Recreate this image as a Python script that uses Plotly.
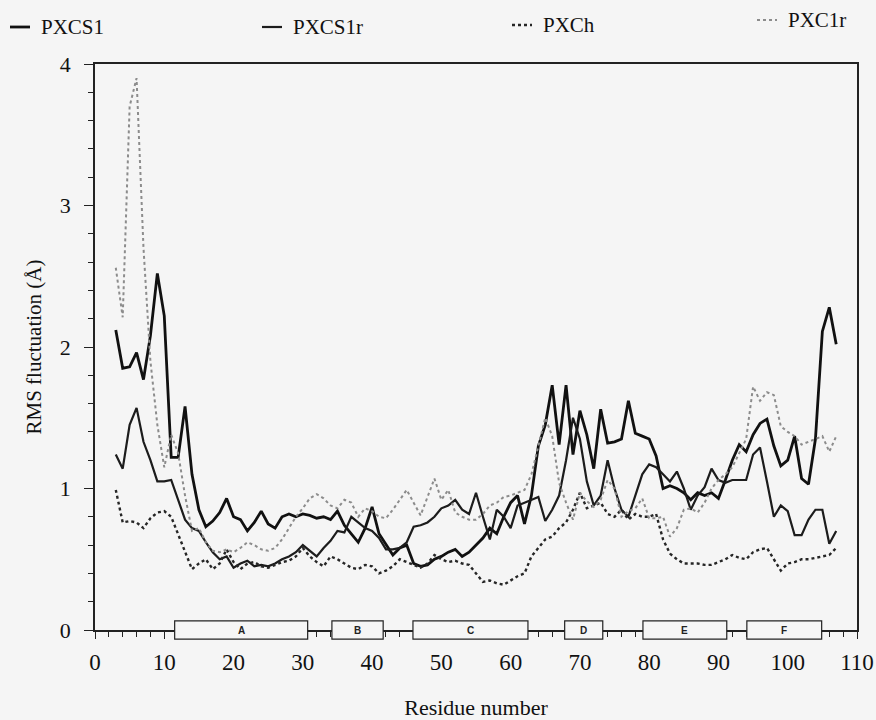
import plotly.graph_objects as go

residues = list(range(3, 108))

pxcs1 = [2.12, 1.85, 1.86, 1.96, 1.77, 2.08, 2.52, 2.22, 1.22, 1.22,
         1.58, 1.10, 0.85, 0.73, 0.77, 0.83, 0.93, 0.80, 0.78, 0.70,
         0.76, 0.84, 0.75, 0.72, 0.80, 0.82, 0.80, 0.82, 0.81, 0.79,
         0.80, 0.78, 0.84, 0.74, 0.68, 0.62, 0.72, 0.87, 0.68, 0.60,
         0.53, 0.58, 0.60, 0.47, 0.45, 0.46, 0.50, 0.52, 0.55, 0.57,
         0.52, 0.55, 0.60, 0.65, 0.72, 0.68, 0.80, 0.90, 0.95, 0.75,
         0.95, 1.30, 1.45, 1.73, 1.31, 1.73, 1.24, 1.55, 1.38, 1.14,
         1.56, 1.32, 1.33, 1.35, 1.62, 1.39, 1.37, 1.35, 1.23, 1.00,
         1.02, 1.00, 0.97, 0.92, 0.97, 0.95, 0.97, 0.93, 1.06, 1.20,
         1.31, 1.26, 1.38, 1.46, 1.49, 1.30, 1.16, 1.20, 1.37, 1.07,
         1.03, 1.35, 2.11, 2.28, 2.02]

pxcs1r = [1.24, 1.14, 1.45, 1.57, 1.33, 1.20, 1.05, 1.05, 1.06, 0.92,
          0.78, 0.72, 0.70, 0.62, 0.55, 0.50, 0.52, 0.44, 0.47, 0.49,
          0.45, 0.46, 0.45, 0.47, 0.50, 0.52, 0.55, 0.60, 0.56, 0.52,
          0.58, 0.63, 0.70, 0.69, 0.80, 0.76, 0.72, 0.70, 0.65, 0.57,
          0.57, 0.58, 0.62, 0.73, 0.74, 0.76, 0.80, 0.86, 0.88, 0.92,
          0.85, 0.82, 0.97, 0.80, 0.64, 0.85, 0.80, 0.72, 0.88, 0.90,
          0.92, 0.94, 0.77, 0.85, 0.95, 1.20, 1.50, 1.35, 1.05, 0.88,
          0.95, 1.20, 1.00, 0.85, 0.80, 0.95, 1.10, 1.17, 1.15, 1.10,
          1.05, 1.12, 1.00, 0.85, 0.95, 1.01, 1.14, 1.06, 1.04, 1.06,
          1.06, 1.06, 1.24, 1.29, 1.05, 0.80, 0.88, 0.84, 0.67, 0.67,
          0.78, 0.85, 0.85, 0.61, 0.70]

pxch = [0.99, 0.76, 0.77, 0.76, 0.72, 0.79, 0.83, 0.84, 0.80, 0.68,
        0.55, 0.43, 0.47, 0.50, 0.43, 0.47, 0.57, 0.48, 0.43, 0.47,
        0.48, 0.45, 0.44, 0.46, 0.48, 0.49, 0.52, 0.58, 0.52, 0.48,
        0.45, 0.52, 0.50, 0.47, 0.44, 0.43, 0.46, 0.45, 0.40, 0.42,
        0.45, 0.50, 0.48, 0.46, 0.44, 0.47, 0.53, 0.50, 0.48, 0.49,
        0.47, 0.46, 0.40, 0.34, 0.35, 0.33, 0.32, 0.35, 0.38, 0.40,
        0.52, 0.58, 0.64, 0.66, 0.72, 0.76, 0.85, 0.97, 0.86, 0.88,
        0.90, 0.82, 0.80, 0.85, 0.78, 0.82, 0.80, 0.80, 0.82, 0.64,
        0.54, 0.50, 0.47, 0.47, 0.47, 0.46, 0.46, 0.48, 0.50, 0.53,
        0.51, 0.50, 0.55, 0.57, 0.58, 0.50, 0.42, 0.47, 0.48, 0.50,
        0.50, 0.51, 0.52, 0.53, 0.58]

pxc1r = [2.56, 2.21, 3.70, 3.90, 2.70, 1.90, 1.45, 1.15, 1.38, 1.25,
         0.95, 0.70, 0.72, 0.62, 0.56, 0.55, 0.57, 0.55, 0.58, 0.62,
         0.60, 0.57, 0.56, 0.58, 0.64, 0.72, 0.80, 0.86, 0.93, 0.96,
         0.93, 0.88, 0.86, 0.92, 0.90, 0.80, 0.86, 0.84, 0.80, 0.79,
         0.85, 0.92, 0.99, 0.90, 0.81, 0.94, 1.07, 0.92, 0.99, 0.83,
         0.80, 0.78, 0.78, 0.82, 0.88, 0.90, 0.94, 0.95, 0.97, 0.99,
         1.10, 1.30, 1.50, 1.37, 1.04, 0.90, 0.78, 0.97, 0.91, 0.87,
         0.92, 1.06, 1.00, 0.80, 0.84, 0.86, 0.93, 0.79, 0.79, 0.80,
         0.66, 0.72, 0.85, 0.86, 0.83, 0.90, 1.00, 1.06, 1.10, 1.15,
         1.25, 1.35, 1.72, 1.62, 1.68, 1.66, 1.44, 1.40, 1.37, 1.31,
         1.33, 1.35, 1.37, 1.26, 1.37]

series_names = ["PXCS1", "PXCS1r", "PXCh", "PXC1r"]

helix_labels = ["A", "B", "C", "D", "E", "F"]
helix_start = [11.5, 34.2, 45.9, 67.8, 79.1, 94.1]
helix_end = [30.7, 41.6, 62.5, 73.3, 91.2, 104.9]

SERIF = "'Liberation Serif', 'Times New Roman', Times, 'DejaVu Serif', serif"
INK = "#111111"

styles = [
    dict(color="#111111", width=2.8),
    dict(color="#1c1c1c", width=2.2),
    dict(color="#262626", width=2.4, dash="dot"),
    dict(color="#8c8c8c", width=2.0, dash="dot"),
]

fig = go.Figure()
for name, vals, line in zip(series_names, [pxcs1, pxcs1r, pxch, pxc1r], styles):
    fig.add_trace(go.Scatter(x=residues, y=vals, mode="lines", name=name, line=line,
                             showlegend=False))

# plot area geometry (pixels) used to place the hand-made legend in paper coords
L, R, T, B = 95, 19, 64, 90
W, H = 876, 720
pw, ph = W - L - R, H - T - B


def px_x(px):
    return (px - L) / pw


def px_y(py):
    return (H - B - py) / ph


legend_pos = [(10, 27), (262, 27), (512, 25), (757, 20)]
for name, line, (lx, ly) in zip(series_names, styles, legend_pos):
    fig.add_shape(type="line", xref="paper", yref="paper",
                  x0=px_x(lx), x1=px_x(lx + 20), y0=px_y(ly), y1=px_y(ly),
                  line=dict(color=line["color"], width=line["width"], dash=line.get("dash", "solid")))
    fig.add_annotation(xref="paper", yref="paper", x=px_x(lx + 29), y=px_y(ly),
                       xanchor="left", yanchor="middle", text=name, showarrow=False,
                       font=dict(family=SERIF, size=21, color=INK))

for lab, s, e in zip(helix_labels, helix_start, helix_end):
    fig.add_shape(type="rect", xref="x", yref="paper", x0=s, x1=e, y0=-0.016, y1=0.016,
                  line=dict(color="#222222", width=1.2), fillcolor="#f5f5f5", layer="above")
    fig.add_annotation(x=(s + e) / 2, y=0, xref="x", yref="paper", text="<b>" + lab + "</b>",
                       showarrow=False, xanchor="center", yanchor="middle",
                       font=dict(family="'Liberation Sans', Arial, sans-serif", size=10, color="#222222"))

fig.update_layout(
    width=W, height=H,
    margin=dict(l=L, r=R, t=T, b=B, autoexpand=False),
    paper_bgcolor="#f5f5f5", plot_bgcolor="#f5f5f5",
    font=dict(family=SERIF, color=INK),
    showlegend=False,
    xaxis=dict(range=[0, 110], tickvals=list(range(0, 111, 10)), ticks="outside", ticklen=7,
               tickwidth=1.3, tickcolor="#222222", showline=True, linecolor="#222222", linewidth=1.5,
               mirror=True, showgrid=False, zeroline=False, ticklabelstandoff=4,
               tickfont=dict(family=SERIF, size=23, color=INK),
               minor=dict(dtick=2, ticks="outside", ticklen=5, tickcolor="#222222", tickwidth=1.2),
               title=dict(text="Residue number", font=dict(family=SERIF, size=22, color=INK),
                          standoff=38)),
    yaxis=dict(range=[0, 4], tickvals=[0, 1, 2, 3, 4], ticks="outside", ticklen=9,
               tickwidth=1.3, tickcolor="#222222", showline=True, linecolor="#222222", linewidth=1.5,
               mirror=True, showgrid=False, zeroline=False, ticklabelstandoff=9,
               tickfont=dict(family=SERIF, size=22, color=INK),
               minor=dict(dtick=0.2, ticks="outside", ticklen=5, tickcolor="#222222", tickwidth=1.2),
               title=dict(text="RMS fluctuation (Å)", font=dict(family=SERIF, size=21, color=INK),
                          standoff=12)),
)

fig.write_html("out.html")
